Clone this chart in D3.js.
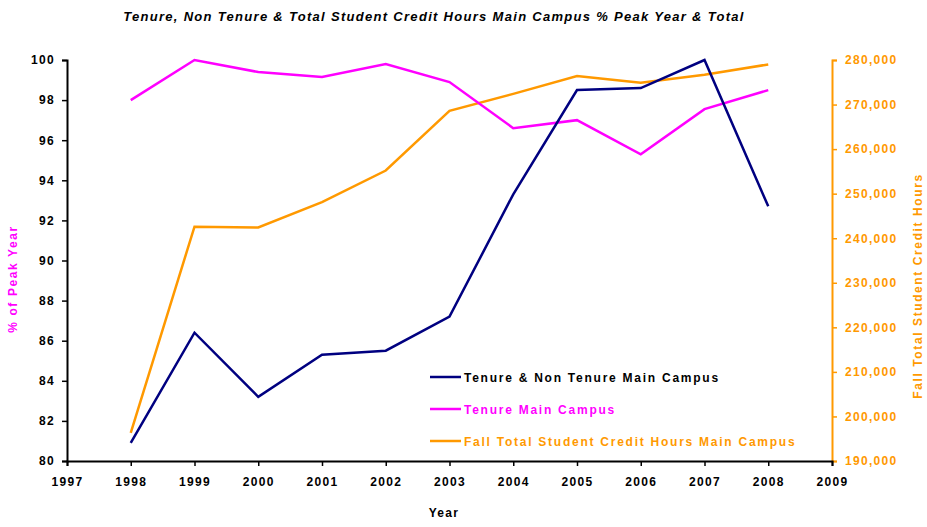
<!DOCTYPE html>
<html>
<head>
<meta charset="utf-8">
<script src="https://cdn.jsdelivr.net/npm/d3@7"></script>
<style>
  body { margin: 0; background: #fff; }
  text { font-family: "Liberation Sans", Arial, sans-serif; font-weight: bold; }
</style>
</head>
<body>
<svg id="chart" width="927" height="527"></svg>
<script>
// data
var years = [1998, 1999, 2000, 2001, 2002, 2003, 2004, 2005, 2006, 2007, 2008];
var tenureNonTenure = [80.9, 86.4, 83.2, 85.3, 85.5, 87.2, 93.3, 98.5, 98.6, 100.0, 92.7];
var tenure = [98.0, 100.0, 99.4, 99.15, 99.8, 98.9, 96.6, 97.0, 95.3, 97.55, 98.5];
var creditHours = [196300, 242600, 242400, 248100, 255200, 268600, 272400, 276400, 274900, 276700, 279000];
var leftTicks = [80, 82, 84, 86, 88, 90, 92, 94, 96, 98, 100];
var rightTicks = [190000, 200000, 210000, 220000, 230000, 240000, 250000, 260000, 270000, 280000];
var xTicks = d3.range(1997, 2010);

var NAVY = "#000080", MAGENTA = "#ff00ff", ORANGE = "#ff9900";

var svg = d3.select("#chart");
var plotLeft = 67, plotRight = 832, plotTop = 60, plotBottom = 461;

var x = d3.scaleLinear().domain([1997, 2009]).range([plotLeft, plotRight]);
var yL = d3.scaleLinear().domain([80, 100]).range([plotBottom, plotTop]);
var yR = d3.scaleLinear().domain([190000, 280000]).range([plotBottom, plotTop]);

// title
svg.append("text")
    .attr("x", 434).attr("y", 21)
    .attr("text-anchor", "middle")
    .style("font-size", "13px")
    .style("font-style", "italic")
    .style("letter-spacing", "1.3px")
    .text("Tenure, Non Tenure & Total Student Credit Hours Main Campus % Peak Year & Total");

// left axis
var gL = svg.append("g")
    .attr("transform", "translate(" + plotLeft + ",0)")
    .call(d3.axisLeft(yL).tickValues(leftTicks).tickSize(5).tickPadding(7).tickFormat(d3.format("d")));
gL.select(".domain").attr("stroke", "#000").attr("stroke-width", 2);
gL.selectAll(".tick line").attr("stroke", "#000").attr("stroke-width", 1.5);
gL.selectAll(".tick text").attr("fill", "#000").style("font-size", "12px").style("font-weight", "bold").style("letter-spacing", "1.3px");

// right axis
var gR = svg.append("g")
    .attr("transform", "translate(" + plotRight + ",0)")
    .call(d3.axisRight(yR).tickValues(rightTicks).tickSize(5).tickPadding(8).tickFormat(d3.format(",")));
gR.select(".domain").attr("stroke", ORANGE).attr("stroke-width", 2);
gR.selectAll(".tick line").attr("stroke", ORANGE).attr("stroke-width", 1.5);
gR.selectAll(".tick text").attr("fill", ORANGE).style("font-size", "12px").style("font-weight", "bold").style("letter-spacing", "1.3px");

// x axis
var gX = svg.append("g")
    .attr("transform", "translate(0," + plotBottom + ")")
    .call(d3.axisBottom(x).tickValues(xTicks).tickSize(5).tickPadding(11).tickFormat(d3.format("d")));
gX.select(".domain").attr("stroke", "#000").attr("stroke-width", 2);
gX.selectAll(".tick line").attr("stroke", "#000").attr("stroke-width", 1.5);
gX.selectAll(".tick text").attr("fill", "#000").style("font-size", "12px").style("font-weight", "bold").style("letter-spacing", "1.3px");

// axis titles
svg.append("text")
    .attr("x", 444).attr("y", 517)
    .attr("text-anchor", "middle")
    .style("font-size", "12px").style("letter-spacing", "1.3px")
    .text("Year");

svg.append("text")
    .attr("transform", "translate(17,279) rotate(-90)")
    .attr("text-anchor", "middle")
    .attr("fill", MAGENTA)
    .style("font-size", "12px").style("letter-spacing", "1.6px")
    .text("% of Peak Year");

svg.append("text")
    .attr("transform", "translate(922,286) rotate(-90)")
    .attr("text-anchor", "middle")
    .attr("fill", ORANGE)
    .style("font-size", "12px").style("letter-spacing", "1.6px")
    .text("Fall Total Student Credit Hours");

// lines
var lineL = d3.line().x(function(d, i) { return x(years[i]); }).y(function(d) { return yL(d); });
var lineR = d3.line().x(function(d, i) { return x(years[i]); }).y(function(d) { return yR(d); });

var series = [
    { name: "Tenure & Non Tenure Main Campus", values: tenureNonTenure, line: lineL, color: NAVY, textColor: "#000" },
    { name: "Tenure Main Campus", values: tenure, line: lineL, color: MAGENTA, textColor: MAGENTA },
    { name: "Fall Total Student Credit Hours Main Campus", values: creditHours, line: lineR, color: ORANGE, textColor: ORANGE }
];

// orange first, then magenta, navy on top
[series[2], series[1], series[0]].forEach(function(s) {
    svg.append("path")
        .datum(s.values)
        .attr("fill", "none")
        .attr("stroke", s.color)
        .attr("stroke-width", 2.5)
        .attr("stroke-linejoin", "miter")
        .attr("d", s.line);
});

// legend
var legend = svg.append("g").attr("transform", "translate(430,377)");
series.forEach(function(s, i) {
    var row = legend.append("g").attr("transform", "translate(0," + (i * 32) + ")");
    row.append("line")
        .attr("x1", 0).attr("x2", 31).attr("y1", 0).attr("y2", 0)
        .attr("stroke", s.color).attr("stroke-width", 2.5);
    row.append("text")
        .attr("x", 34).attr("y", 4.5)
        .attr("fill", s.textColor)
        .style("font-size", "12px").style("letter-spacing", "1.75px")
        .text(s.name);
});
</script>
</body>
</html>
